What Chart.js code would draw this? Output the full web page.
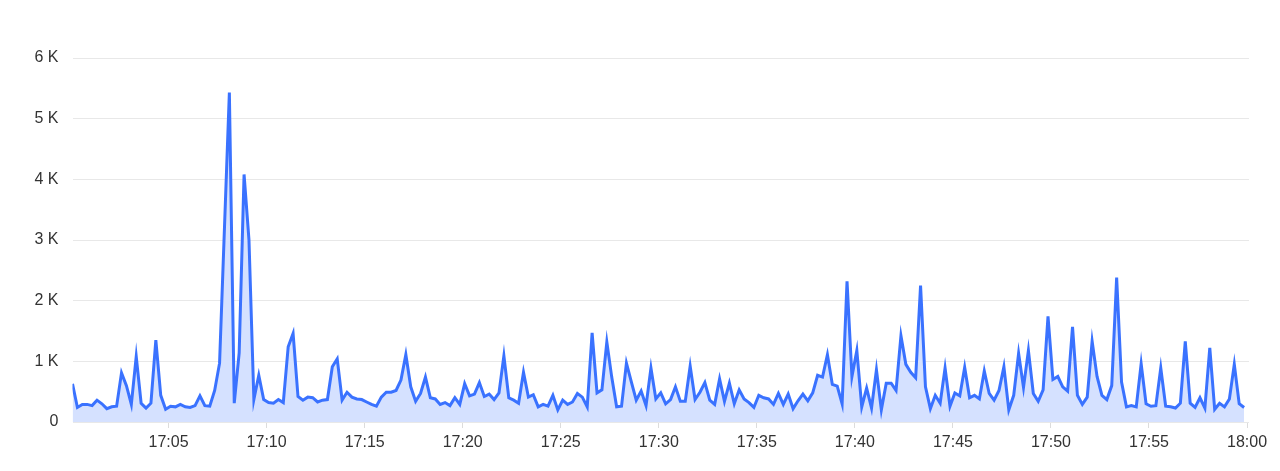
<!DOCTYPE html>
<html>
<head>
<meta charset="utf-8">
<script src="https://cdn.jsdelivr.net/npm/chart.js@4.4.0/dist/chart.umd.min.js"></script>
<style>
  body { margin: 0; background: #fff; }
  #myChart { display: block; }
</style>
</head>
<body>
<canvas id="myChart" width="1280" height="471"></canvas>
<script>
// one sample every 15 s, first one at 17:00:06 (minutes after 17:00)
var startMinute = 0.1;
var stepMinute = 0.25;
var xTicks = [5, 10, 15, 20, 25, 30, 35, 40, 45, 50, 55, 60];
var yTicks = [0, 1000, 2000, 3000, 4000, 5000, 6000];

var values = [
  630, 240, 290, 290, 270, 360, 300, 220, 250, 260,
  810, 600, 290, 1080, 310, 230, 310, 1350, 440, 210,
  260, 250, 290, 250, 240, 270, 430, 270, 260, 520,
  970, 3200, 5430, 310, 1140, 4080, 3000, 370, 770, 370,
  320, 310, 370, 320, 1240, 1460, 420, 360, 410, 400,
  330, 360, 370, 910, 1040, 360, 490, 410, 380, 370,
  330, 290, 260, 410, 490, 490, 520, 690, 1110, 580,
  340, 470, 740, 400, 380, 290, 320, 270, 400, 290,
  630, 430, 460, 650, 420, 460, 370, 480, 1090, 400,
  360, 310, 820, 410, 450, 250, 290, 260, 440, 200,
  360, 290, 330, 470, 410, 250, 1470, 480, 530, 1320,
  740, 250, 260, 970, 660, 360, 510, 270, 890, 380,
  480, 300, 370, 580, 340, 340, 920, 370, 490, 650,
  360, 290, 710, 340, 640, 300, 530, 380, 320, 240,
  440, 400, 380, 290, 470, 290, 460, 220, 350, 460,
  350, 480, 770, 740, 1110, 620, 590, 300, 2320, 750,
  1180, 250, 560, 230, 860, 200, 640, 640, 520, 1420,
  950, 820, 730, 2250, 580, 220, 440, 310, 890, 260,
  480, 430, 900, 400, 440, 380, 840, 470, 360, 520,
  910, 200, 440, 1130, 570, 1180, 470, 340, 530, 1740,
  700, 750, 580, 510, 1570, 440, 290, 410, 1330, 750,
  440, 370, 600, 2380, 660, 250, 270, 250, 960, 300,
  260, 270, 890, 260, 250, 230, 310, 1330, 310, 240,
  400, 230, 1220, 210, 310, 250, 380, 950, 300, 240
];

var points = values.map(function (v, i) {
  return { x: startMinute + i * stepMinute, y: v };
});

function clock(m) {
  var h = 17 + Math.floor(m / 60);
  var mm = Math.round(m % 60);
  return h + ':' + (mm < 10 ? '0' + mm : mm);
}

var font = { family: 'Liberation Sans, Arial, sans-serif', size: 16 };

var ctx = document.getElementById('myChart').getContext('2d');
var chart = new Chart(ctx, {
  type: 'line',
  data: {
    datasets: [{
      data: points,
      borderColor: '#3a72ff',
      backgroundColor: '#d5e1ff',
      borderWidth: 3,
      fill: 'origin',
      pointRadius: 0,
      tension: 0
    }]
  },
  options: {
    responsive: false,
    animation: false,
    layout: { padding: { left: 0, right: 31, top: 58, bottom: 0 } },
    plugins: { legend: { display: false }, tooltip: { enabled: false } },
    scales: {
      x: {
        type: 'linear',
        min: startMinute,
        max: 60.1,
        afterBuildTicks: function (scale) {
          scale.ticks = xTicks.map(function (v) { return { value: v }; });
        },
        afterFit: function (scale) { scale.height = 49; },
        grid: { drawOnChartArea: false, drawTicks: true, tickLength: 6, color: '#dcdcdc' },
        border: { display: false },
        ticks: {
          padding: 5,
          maxRotation: 0,
          autoSkip: false,
          color: '#333',
          font: font,
          callback: function (v) { return clock(v); }
        }
      },
      y: {
        min: 0,
        max: 6000,
        afterBuildTicks: function (scale) {
          scale.ticks = yTicks.map(function (v) { return { value: v }; });
        },
        afterFit: function (scale) { scale.width = 72.5; },
        grid: { drawTicks: false, color: '#e8e8e8' },
        border: { display: false },
        ticks: {
          padding: 14,
          color: '#333',
          font: font,
          callback: function (v) { return v === 0 ? '0' : (v / 1000) + ' K'; }
        }
      }
    }
  }
});
</script>
</body>
</html>
